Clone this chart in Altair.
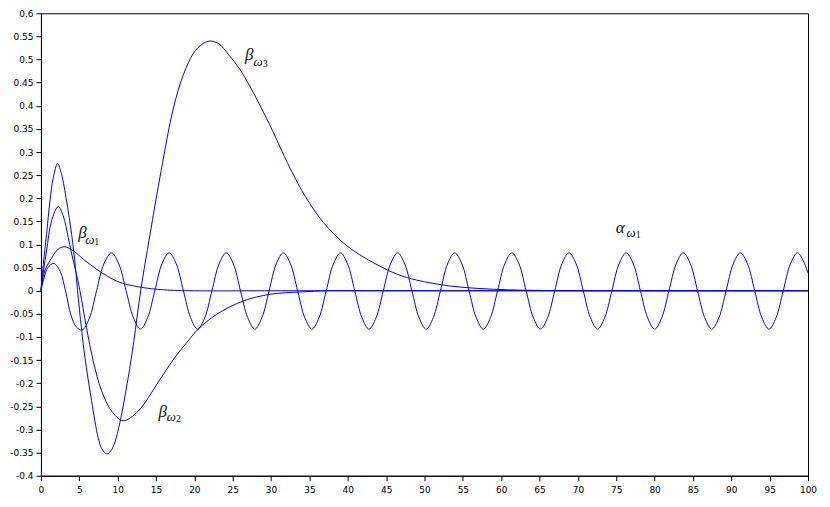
import altair as alt
import pandas as pd

# ---- data ----
x_ticks = [0, 5, 10, 15, 20, 25, 30, 35, 40, 45, 50, 55, 60, 65, 70, 75, 80, 85, 90, 95, 100]
y_ticks = [-0.4, -0.35, -0.3, -0.25, -0.2, -0.15, -0.1, -0.05, 0, 0.05, 0.1, 0.15,
           0.2, 0.25, 0.3, 0.35, 0.4, 0.45, 0.5, 0.55, 0.6]

beta1_x = [0, 0.5, 1.4, 2.25, 3.1, 4.25, 5.55, 7.3, 8.6, 10.3, 12.9, 16, 20, 30, 100]
beta1_y = [0, 0.043, 0.071, 0.090, 0.095, 0.086, 0.068, 0.046, 0.032, 0.018, 0.008, 0.002, 0.0, 0.0, 0.0]

beta2_x = [0, 0.35, 0.73, 1.38, 2.25, 2.9, 3.56, 4.0, 4.5, 5.08, 5.94, 6.81, 7.9, 9.2, 10.72,
           12.68, 15.28, 17.2, 19.2, 20.5, 22.9, 26.4, 29.9, 33.8, 37.5, 42, 100]
beta2_y = [0, 0.045, 0.086, 0.151, 0.182, 0.162, 0.115, 0.08, 0.045, 0.0, -0.08, -0.152, -0.216,
           -0.26, -0.281, -0.26, -0.198, -0.15, -0.108, -0.083, -0.051, -0.022, -0.0076, -0.0026,
           0.0, 0.0, 0.0]

beta3_x = [0, 0.3, 0.73, 1.17, 1.6, 2.17, 2.68, 3.34, 4.0, 4.5, 4.77, 5.29, 5.73, 6.6, 7.46, 7.95,
           8.6, 9.2, 9.65, 10.29, 11.37, 12.1, 13.0, 14.2, 15.67, 17.27, 18.58, 19.9, 21.0, 22.05,
           23.2, 24.44, 25.96, 27.27, 29.44, 32.48, 34.5, 36.8, 39.9, 43.3, 46.4, 48.98, 53.3, 57,
           61, 65, 70, 100]
beta3_y = [0, 0.057, 0.122, 0.194, 0.244, 0.275, 0.252, 0.194, 0.122, 0.05, 0.0, -0.083, -0.144,
           -0.238, -0.318, -0.342, -0.353, -0.344, -0.327, -0.285, -0.188, -0.11, 0.0, 0.12, 0.26,
           0.395, 0.468, 0.514, 0.533, 0.54, 0.534, 0.511, 0.478, 0.441, 0.372, 0.265, 0.203, 0.148,
           0.097, 0.061, 0.036, 0.023, 0.0104, 0.005, 0.002, 0.0007, 0.0, 0.0]

alpha1_x = [0, 0.4, 0.9, 1.69, 2.5, 3.2, 3.9, 4.6, 5.35, 6.3, 7.25, 8.2, 9.2, 10.15, 11.1, 12.05,
            12.98, 13.91, 14.84, 15.77, 16.70, 17.64, 18.57, 19.50,
            20.43, 21.36, 22.29, 23.22, 24.15, 25.08, 26.01, 26.95,
            27.88, 28.81, 29.74, 30.67, 31.60, 32.53, 33.46, 34.39,
            35.32, 36.26, 37.19, 38.12, 39.05, 39.98, 40.91, 41.84,
            42.77, 43.70, 44.63, 45.57, 46.50, 47.43, 48.36, 49.29,
            50.22, 51.15, 52.08, 53.01, 53.94, 54.88, 55.81, 56.74,
            57.67, 58.60, 59.53, 60.46, 61.39, 62.32, 63.25, 64.19,
            65.12, 66.05, 66.98, 67.91, 68.84, 69.77, 70.70, 71.63,
            72.56, 73.50, 74.43, 75.36, 76.29, 77.22, 78.15, 79.08,
            80.01, 80.94, 81.87, 82.81, 83.74, 84.67, 85.60, 86.53,
            87.46, 88.39, 89.32, 90.25, 91.18, 92.12, 93.05, 93.98,
            94.91, 95.84, 96.77, 97.70, 98.63, 99.56, 100]
alpha1_y = [0, 0.028, 0.05, 0.059, 0.042, 0.0, -0.052, -0.078, -0.085, -0.06, 0.0, 0.058, 0.082,
            0.058, 0.0, -0.058,
            -0.083, -0.058, 0, 0.058, 0.082, 0.058, 0, -0.058,
            -0.083, -0.058, 0, 0.058, 0.082, 0.058, 0, -0.058,
            -0.083, -0.058, 0, 0.058, 0.082, 0.058, 0, -0.058,
            -0.083, -0.058, 0, 0.058, 0.082, 0.058, 0, -0.058,
            -0.083, -0.058, 0, 0.058, 0.082, 0.058, 0, -0.058,
            -0.083, -0.058, 0, 0.058, 0.082, 0.058, 0, -0.058,
            -0.083, -0.058, 0, 0.058, 0.082, 0.058, 0, -0.058,
            -0.083, -0.058, 0, 0.058, 0.082, 0.058, 0, -0.058,
            -0.083, -0.058, 0, 0.058, 0.082, 0.058, 0, -0.058,
            -0.083, -0.058, 0, 0.058, 0.082, 0.058, 0, -0.058,
            -0.083, -0.058, 0, 0.058, 0.082, 0.058, 0, -0.058,
            -0.083, -0.058, 0, 0.058, 0.082, 0.058, 0.038]

label_main_text = ["β", "β", "β", "α"]
label_main_x = [4.86, 15.32, 26.6, 74.95]
label_main_y = [0.114, -0.2726, 0.498, 0.125]
label_sub_text = ["ω", "ω", "ω", "ω"]
label_sub_x = [5.77, 16.41, 27.72, 76.35]
label_sub_y = [0.102, -0.2812, 0.486, 0.116]
label_idx_text = ["1", "2", "3", "1"]
label_idx_x = [6.95, 17.59, 28.9, 77.53]
label_idx_y = [0.100, -0.2832, 0.484, 0.114]

# ---- build tables ----
rows = []
for name, xs, ys in [("beta1", beta1_x, beta1_y), ("beta2", beta2_x, beta2_y),
                     ("beta3", beta3_x, beta3_y), ("alpha1", alpha1_x, alpha1_y)]:
    for i, (a, b) in enumerate(zip(xs, ys)):
        rows.append({"series": name, "idx": i, "x": a, "y": b})
df = pd.DataFrame(rows)
df_main = pd.DataFrame({"t": label_main_text, "x": label_main_x, "y": label_main_y})
df_sub = pd.DataFrame({"t": label_sub_text, "x": label_sub_x, "y": label_sub_y})
df_idx = pd.DataFrame({"t": label_idx_text, "x": label_idx_x, "y": label_idx_y})

xscale = alt.Scale(domain=[0, 100], nice=False, zero=False)
yscale = alt.Scale(domain=[-0.4, 0.6], nice=False, zero=False)

xaxis = alt.Axis(values=x_ticks, title=None, grid=False, tickSize=5, labelPadding=5,
                 labelFont="DejaVu Sans", labelFontSize=9, labelColor="black",
                 domainColor="black", tickColor="black", labelFlush=False, labelOverlap=False)
yaxis = alt.Axis(values=y_ticks, title=None, grid=False, tickSize=5, labelPadding=3,
                 labelFont="DejaVu Sans", labelFontSize=9, labelColor="black",
                 domainColor="black", tickColor="black", labelFlush=False, labelOverlap=False,
                 labelExpr="'' + round(datum.value * 100) / 100")

X = alt.X("x:Q", scale=xscale, axis=xaxis)
Y = alt.Y("y:Q", scale=yscale, axis=yaxis)

lines = alt.Chart(df).mark_line(interpolate="catmull-rom", strokeWidth=1, color="#0000ff").encode(
    x=X, y=Y, detail="series:N", order="idx:Q",
)

main_txt = alt.Chart(df_main).mark_text(
    align="left", baseline="alphabetic", font="Liberation Serif", fontStyle="italic",
    fontSize=17, color="#111111"
).encode(x=X, y=Y, text="t:N")

sub_txt = alt.Chart(df_sub).mark_text(
    align="left", baseline="alphabetic", font="Liberation Serif", fontStyle="italic",
    fontSize=13, color="#111111"
).encode(x=X, y=Y, text="t:N")

idx_txt = alt.Chart(df_idx).mark_text(
    align="left", baseline="alphabetic", font="Liberation Serif",
    fontSize=10, color="#111111"
).encode(x=X, y=Y, text="t:N")

chart = alt.layer(lines, main_txt, sub_txt, idx_txt).properties(
    width=768, height=463,
    padding={"left": 33, "top": 5, "right": 14, "bottom": 20},
    autosize=alt.AutoSizeParams(type="none"),
).configure_view(stroke="black", strokeWidth=1)

chart.save("out.html", embed_options={"renderer": "svg", "actions": False})
